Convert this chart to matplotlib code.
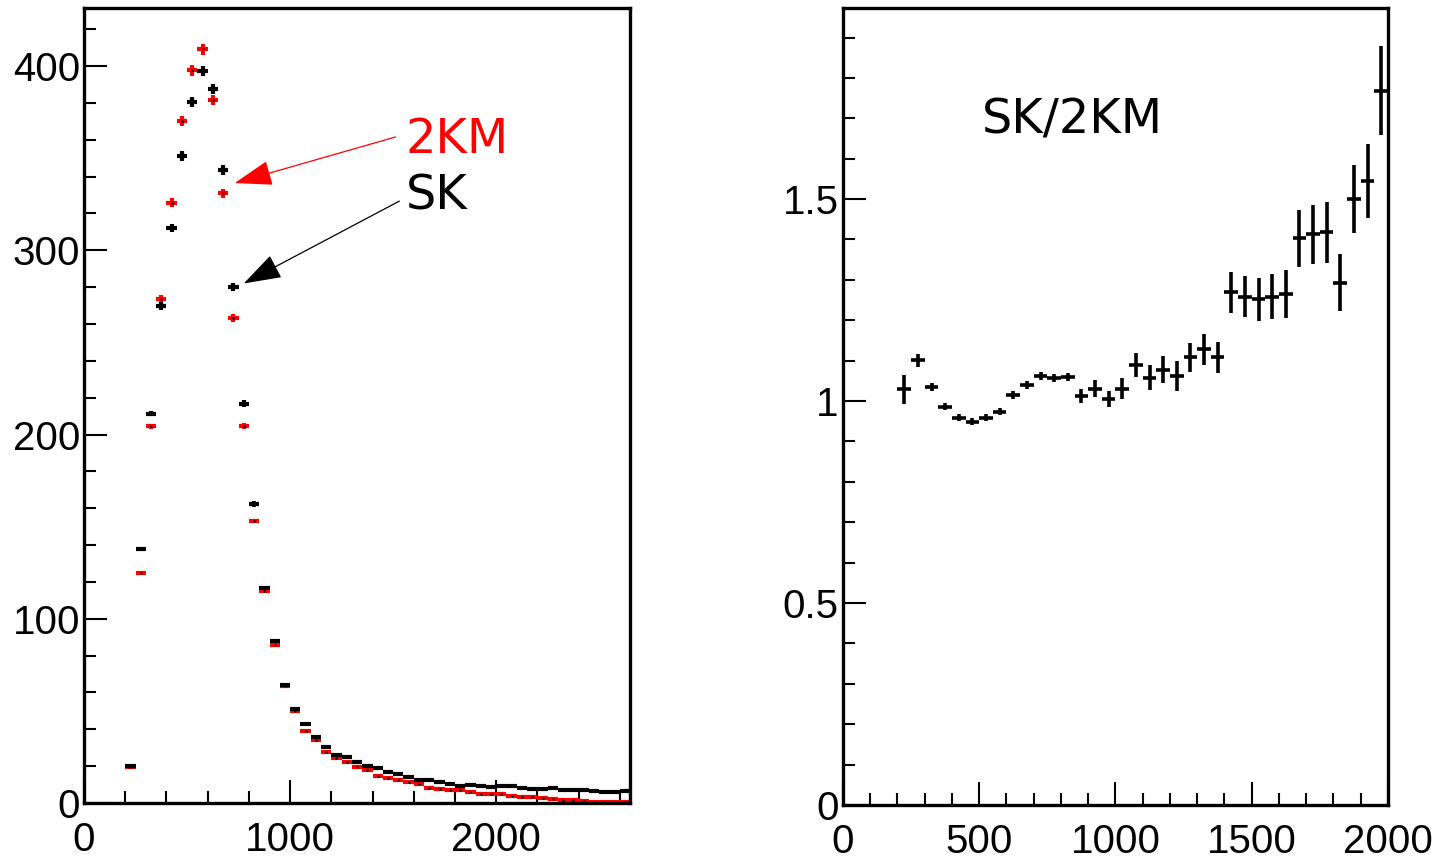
import numpy as np
import matplotlib
matplotlib.use("Agg")
import matplotlib.pyplot as plt
from matplotlib.patches import ArrowStyle

# energy bins, 50 wide, starting at 200
BIN_W = 50
left_centers = np.arange(225, 2650, BIN_W)
right_centers = np.arange(225, 2000, BIN_W)

sk = [20.2, 137.7, 211.3, 269.7, 312.2, 351.2, 380.6, 397.4, 387.5, 343.7,
      279.9, 216.7, 162.3, 116.7, 88.1, 64.0, 51.2, 42.9, 35.8, 30.4,
      26.0, 25.0, 22.1, 19.9, 19.2, 17.0, 15.9, 14.1, 12.6, 12.3,
      11.2, 10.5, 9.4, 9.8, 9.1, 8.7, 9.0, 9.4, 8.0, 7.6,
      7.6, 8.0, 6.9, 7.2, 6.9, 6.5, 6.2, 6.2, 6.5]
km2 = [19.8, 124.7, 204.4, 273.5, 325.8, 370.2, 397.6, 409.0, 381.5, 330.9,
       263.2, 204.8, 153.1, 115.0, 85.6, 63.5, 49.8, 39.1, 34.0, 27.8,
       24.6, 22.4, 19.5, 18.1, 14.8, 13.4, 12.3, 11.2, 10.1, 8.3,
       7.6, 6.9, 6.9, 5.8, 5.1, 4.7, 4.7, 3.6, 3.3, 3.3,
       2.5, 2.2, 1.4, 1.4, 1.1, 0.7, 0.3, 0.3, 0.3]
sk_err = [0.4, 1.0, 1.5, 2.0, 2.3, 2.5, 2.7, 2.8, 2.8, 2.6,
          2.2, 1.8, 1.4, 1.0, 0.8, 0.6, 0.5, 0.4, 0.4, 0.3,
          0.3, 0.3, 0.3, 0.3, 0.3, 0.3, 0.3, 0.3, 0.3, 0.3,
          0.3, 0.3, 0.3, 0.3, 0.3, 0.3, 0.3, 0.3, 0.3, 0.3,
          0.3, 0.3, 0.3, 0.3, 0.3, 0.3, 0.3, 0.3, 0.3]
km2_err = [0.4, 0.9, 1.4, 2.0, 2.4, 2.6, 2.8, 2.9, 2.8, 2.5,
           2.1, 1.7, 1.3, 1.0, 0.8, 0.6, 0.5, 0.4, 0.4, 0.3,
           0.3, 0.3, 0.3, 0.3, 0.3, 0.3, 0.3, 0.3, 0.3, 0.3,
           0.3, 0.3, 0.3, 0.3, 0.3, 0.3, 0.3, 0.3, 0.3, 0.3,
           0.3, 0.3, 0.3, 0.3, 0.3, 0.3, 0.3, 0.3, 0.3]

ratio = [1.029, 1.101, 1.035, 0.986, 0.959, 0.949, 0.959, 0.974, 1.015, 1.040,
         1.061, 1.058, 1.059, 1.012, 1.031, 1.005, 1.031, 1.089, 1.058, 1.078,
         1.062, 1.108, 1.128, 1.108, 1.269, 1.258, 1.252, 1.258, 1.265, 1.403,
         1.413, 1.418, 1.293, 1.500, 1.545, 1.768]
ratio_err = [0.036, 0.016, 0.010, 0.009, 0.008, 0.008, 0.008, 0.008, 0.009, 0.009,
             0.010, 0.010, 0.010, 0.018, 0.020, 0.020, 0.027, 0.030, 0.031, 0.033,
             0.036, 0.036, 0.039, 0.039, 0.050, 0.051, 0.053, 0.056, 0.059, 0.070,
             0.073, 0.075, 0.071, 0.084, 0.092, 0.110]

plt.rcParams['font.family'] = ['Liberation Sans', 'DejaVu Sans']

fig = plt.figure(figsize=(14.37, 8.63), dpi=100)
ax1 = fig.add_axes([0.0585, 0.0695, 0.380, 0.9212])
ax2 = fig.add_axes([0.5866, 0.0672, 0.3793, 0.9235])


def style_axis(ax):
    for sp in ax.spines.values():
        sp.set_linewidth(2.4)
    ax.tick_params(which='both', direction='in', top=False, right=False,
                   width=1.5, labelsize=29)
    ax.tick_params(which='major', length=16.5)
    ax.tick_params(which='minor', length=8.5)
    ax.tick_params(axis='x', pad=13)
    ax.tick_params(axis='y', pad=3)


# left panel: the two spectra
ax1.errorbar(left_centers, sk, xerr=BIN_W / 2, yerr=sk_err, fmt='none',
             ecolor='black', elinewidth=3.0, capsize=0, zorder=3)
ax1.errorbar(left_centers, km2, xerr=BIN_W / 2, yerr=km2_err, fmt='none',
             ecolor='red', elinewidth=3.0, capsize=0, zorder=2)
ax1.plot(left_centers, km2, ls='none', marker='.', ms=1.5, color='black', zorder=4)
ax1.set_xlim(0, 2650)
ax1.set_ylim(0, 431.5)
ax1.set_xticks([0, 1000, 2000])
ax1.set_xticks(np.arange(0, 2650, 200), minor=True)
ax1.set_yticks([0, 100, 200, 300, 400])
ax1.set_yticks(np.arange(0, 431, 20), minor=True)
style_axis(ax1)

arrow = ArrowStyle('-|>', head_length=2.4, head_width=0.8)
ax1.annotate('', xy=(731, 336.5), xytext=(1511, 361.5),
             arrowprops=dict(arrowstyle=arrow, mutation_scale=10, color='red',
                             lw=0.9, shrinkA=0, shrinkB=0))
ax1.annotate('', xy=(775, 282), xytext=(1530, 326.7),
             arrowprops=dict(arrowstyle=arrow, mutation_scale=10, color='black',
                             lw=0.9, shrinkA=0, shrinkB=0))
ax1.text(1560, 353, '2KM', color='red', fontsize=34.5, family='DejaVu Sans',
         va='baseline', ha='left')
ax1.text(1560, 322, 'SK', color='black', fontsize=34.5, family='DejaVu Sans',
         va='baseline', ha='left')

# right panel: ratio
ax2.errorbar(right_centers, ratio, xerr=BIN_W / 2, yerr=ratio_err, fmt='none',
             ecolor='black', elinewidth=2.6, capsize=0)
ax2.set_xlim(0, 2000)
ax2.set_ylim(0, 1.973)
ax2.set_xticks([0, 500, 1000, 1500, 2000])
ax2.set_xticks(np.arange(0, 2001, 100), minor=True)
ax2.set_yticks([0, 0.5, 1, 1.5])
ax2.set_yticklabels(['0', '0.5', '1', '1.5'])
ax2.set_yticks(np.arange(0, 1.95, 0.1), minor=True)
style_axis(ax2)
ax2.text(510, 1.663, 'SK/2KM', color='black', fontsize=34.5, family='DejaVu Sans',
         va='baseline', ha='left')

fig.savefig('out.png', dpi=100)
